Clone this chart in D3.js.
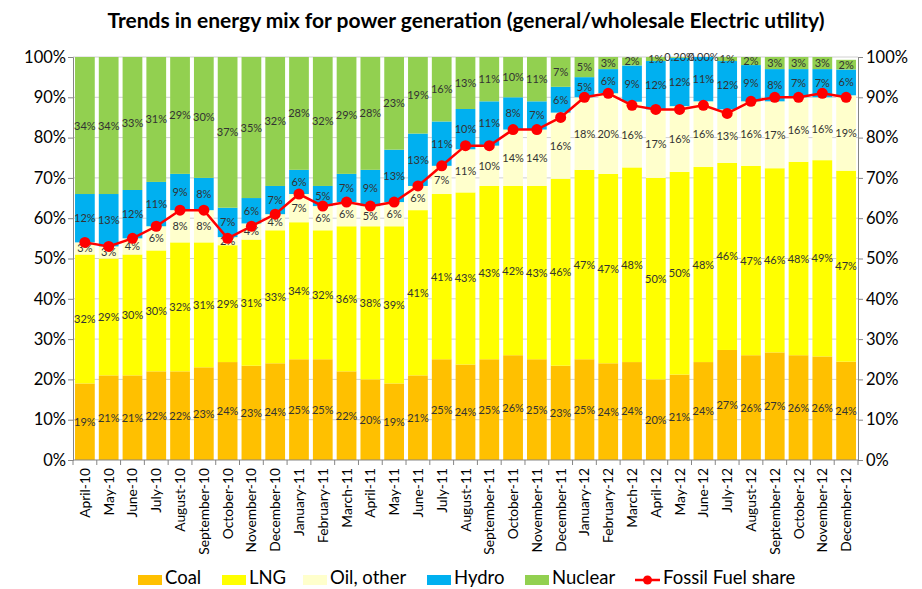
<!DOCTYPE html>
<html>
<head>
<meta charset="utf-8">
<script src="https://cdn.jsdelivr.net/npm/d3@7"></script>
<style>
body { margin: 0; background: #fff; }
svg { font-family: Lato, "Liberation Sans", sans-serif; }
</style>
</head>
<body>
<div id="chart"></div>
<script>
var months = ["April-10","May-10","June-10","July-10","August-10","September-10","October-10","November-10","December-10",
	"January-11","February-11","March-11","April-11","May-11","June-11","July-11","August-11","September-11","October-11","November-11","December-11",
	"January-12","February-12","March-12","April-12","May-12","June-12","July-12","August-12","September-12","October-12","November-12","December-12"];
var coal    = [19,21,21,22,22,23,24.3,23.4,24, 25,25,22,20,19,21,25,23.7,25,26,25,23.4, 25,24,24.3,20,21.2,24.3,27.3,26,26.7,26,25.7,24.4];
var lng     = [32,29,30,30,32,31,29,31.3,33, 34,32,36,38,39,41,41,42.7,43,42,43,46.4, 47,47,48.3,50,50.3,48.4,46.4,47,45.7,48,48.7,47.4];
var oil     = [3,3,4,6,8,8,2,4,4, 7,6,6,5,6,6,7,10.7,10,14,14,16.4, 18,20,16.3,17,16.3,16.3,13.3,16,16.6,16,15.6,18.7];
var hydro   = [12,13,12,11,9,8,7.3,6.3,7, 6,5,7,9,13,13,11,10,11,8,7,6.4, 5,6,9,12,12,11,12,9,8,7,7,6.4];
var nuclear = [34,34,33,31,29,30,37.4,35,32, 28,32,29,28,23,19,16,13,11,10,11,7.4, 5,3,2,1,0.2,0,1,2,3,3,3,2.4];
var fossil  = [54,53,55,58,62,62,55,58,61, 66,63,64,63,64,68,73,78,78,82,82,85, 90,91,88,87,87,88,86,89,90,90,91,90];
var yTicks  = [0,10,20,30,40,50,60,70,80,90,100];

var seriesNames = ["Coal","LNG","Oil, other","Hydro","Nuclear"];
var seriesData = [coal, lng, oil, hydro, nuclear];
var colors = ["#FFC000","#FFFF00","#FFFFCC","#00B0F0","#92D050"];

var width = 922, height = 589;
var margin = {top: 57, right: 64, bottom: 129, left: 73};

var svg = d3.select("#chart").append("svg")
	.attr("width", width)
	.attr("height", height);

svg.append("text")
	.attr("x", 466)
	.attr("y", 28)
	.attr("text-anchor", "middle")
	.style("font-size", "21px")
	.style("font-weight", "bold")
	.text("Trends in energy mix for power generation (general/wholesale Electric utility)");

var x = d3.scaleBand().domain(months).range([margin.left, width - margin.right]).paddingInner(0.17).paddingOuter(0.085);
var y = d3.scaleLinear().domain([0, 100]).range([height - margin.bottom, margin.top]);

// gridlines
svg.append("g").selectAll("line")
	.data(yTicks.slice(1))
	.enter().append("line")
	.attr("x1", margin.left).attr("x2", width - margin.right)
	.attr("y1", d => y(d)).attr("y2", d => y(d))
	.attr("stroke", "#d0d0d0").attr("stroke-width", 1);

svg.append("clipPath").attr("id", "plotclip")
	.append("rect")
	.attr("x", margin.left).attr("y", margin.top)
	.attr("width", width - margin.left - margin.right)
	.attr("height", height - margin.top - margin.bottom);

// stack
var rows = months.map((m, i) => {
	var r = {month: m};
	seriesNames.forEach((s, k) => r[s] = seriesData[k][i]);
	return r;
});
var stacked = d3.stack().keys(seriesNames)(rows);

var bars = svg.append("g").attr("clip-path", "url(#plotclip)");
stacked.forEach((layer, k) => {
	bars.append("g").attr("fill", colors[k])
		.selectAll("rect")
		.data(layer)
		.enter().append("rect")
		.attr("x", d => x(d.data.month))
		.attr("width", x.bandwidth())
		.attr("y", d => y(d[1]))
		.attr("height", d => Math.max(0, y(d[0]) - y(d[1])));
});

// axes
var yLeft = d3.axisLeft(y).tickValues(yTicks).tickSize(5).tickFormat(d => d + "%");
var yRight = d3.axisRight(y).tickValues(yTicks).tickSize(5).tickFormat(d => d + "%");

var gl = svg.append("g").attr("transform", "translate(" + margin.left + ",0)").call(yLeft);
var gr = svg.append("g").attr("transform", "translate(" + (width - margin.right) + ",0)").call(yRight);
[gl, gr].forEach(g => {
	g.select(".domain").attr("stroke", "#868686");
	g.selectAll(".tick line").attr("stroke", "#868686");
	g.selectAll(".tick text").style("font-size", "16.5px").attr("fill", "#000").style("font-family", "Lato, sans-serif");
});
gl.selectAll(".tick text").attr("x", -7);
gr.selectAll(".tick text").attr("x", 8);

// x axis
var xg = svg.append("g");
xg.append("line")
	.attr("x1", margin.left).attr("x2", width - margin.right)
	.attr("y1", y(0)).attr("y2", y(0))
	.attr("stroke", "#868686");
var step = x.step();
var bounds = months.map((m, i) => x(m) - (step - x.bandwidth()) / 2).concat([width - margin.right]);
xg.selectAll("line.tk").data(bounds).enter().append("line")
	.attr("class", "tk")
	.attr("x1", d => d).attr("x2", d => d)
	.attr("y1", y(0)).attr("y2", y(0) + 5)
	.attr("stroke", "#868686");
xg.selectAll("text").data(months).enter().append("text")
	.attr("transform", d => "translate(" + (x(d) + x.bandwidth() / 2 + 5) + "," + (y(0) + 8) + ") rotate(-90)")
	.attr("text-anchor", "end")
	.style("font-size", "13.8px")
	.text(d => d);

// segment labels
function fmt(v) {
	if (v < 1) return v.toFixed(2) + "%";
	return Math.round(v) + "%";
}
stacked.forEach((layer, k) => {
	svg.append("g").selectAll("text")
		.data(layer)
		.enter().append("text")
		.attr("x", d => x(d.data.month) + x.bandwidth() / 2)
		.attr("y", d => y((d[0] + d[1]) / 2) + 4)
		.attr("text-anchor", "middle")
		.style("font-size", "11px")
		.attr("fill", "#333")
		.text(d => fmt(d.data[layer.key]));
});

// fossil share line
var line = d3.line()
	.x((d, i) => x(months[i]) + x.bandwidth() / 2)
	.y(d => y(d));
svg.append("path")
	.datum(fossil)
	.attr("d", line)
	.attr("fill", "none")
	.attr("stroke", "#FF0000")
	.attr("stroke-width", 2.5);
svg.append("g").selectAll("circle")
	.data(fossil)
	.enter().append("circle")
	.attr("cx", (d, i) => x(months[i]) + x.bandwidth() / 2)
	.attr("cy", d => y(d))
	.attr("r", 5.5)
	.attr("fill", "#FF0000");

// legend
var legendItems = [
	{name: "Coal", x: 138, color: colors[0]},
	{name: "LNG", x: 222, color: colors[1]},
	{name: "Oil, other", x: 303, color: colors[2]},
	{name: "Hydro", x: 427, color: colors[3]},
	{name: "Nuclear", x: 525, color: colors[4]}
];
var lg = svg.append("g");
legendItems.forEach(it => {
	lg.append("rect").attr("x", it.x).attr("y", 575).attr("width", 24).attr("height", 10).attr("fill", it.color);
	lg.append("text").attr("x", it.x + 27).attr("y", 584).style("font-size", "18.5px").text(it.name);
});
lg.append("line").attr("x1", 635).attr("x2", 660).attr("y1", 580).attr("y2", 580).attr("stroke", "#FF0000").attr("stroke-width", 2.5);
lg.append("circle").attr("cx", 647.5).attr("cy", 580).attr("r", 4.5).attr("fill", "#FF0000");
lg.append("text").attr("x", 663).attr("y", 584).style("font-size", "18.5px").text("Fossil Fuel share");
</script>
</body>
</html>
